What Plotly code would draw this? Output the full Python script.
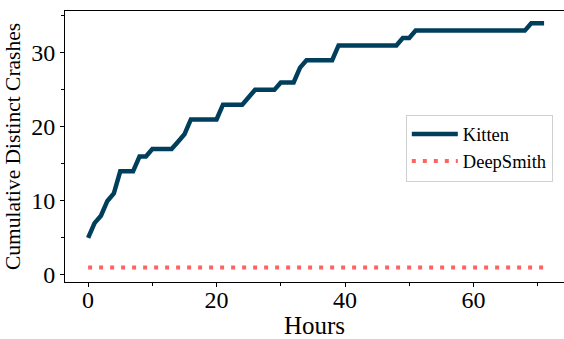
import plotly.graph_objects as go

hours = list(range(0, 72))
kitten = [5, 7, 8, 10, 11, 14, 14, 14, 16, 16,
          17, 17, 17, 17, 18, 19, 21, 21, 21, 21,
          21, 23, 23, 23, 23, 24, 25, 25, 25, 25,
          26, 26, 26, 28, 29, 29, 29, 29, 29, 31,
          31, 31, 31, 31, 31, 31, 31, 31, 31, 32,
          32, 33, 33, 33, 33, 33, 33, 33, 33, 33,
          33, 33, 33, 33, 33, 33, 33, 33, 33, 34,
          34, 34]
deepsmith = [1] * len(hours)

x_ticks = [0, 20, 40, 60]
y_ticks = [0, 10, 20, 30]

FONT = "Liberation Serif, Times New Roman, serif"

fig = go.Figure()
fig.add_trace(go.Scatter(x=hours, y=kitten, mode="lines", name="Kitten",
                         line=dict(color="#003f5c", width=4.5)))
fig.add_trace(go.Scatter(x=hours, y=deepsmith, mode="lines", name="DeepSmith",
                         line=dict(color="#ff6361", width=4, dash="4px,7px")))

fig.update_layout(
    width=564, height=339,
    margin=dict(l=65, r=0, t=11, b=57),
    paper_bgcolor="white", plot_bgcolor="white",
    font=dict(family=FONT, color="black"),
    legend=dict(x=0.683, y=0.618, xanchor="left", yanchor="top",
                bgcolor="white", bordercolor="#d0d0d0", borderwidth=1,
                itemwidth=46, tracegroupgap=0,
                font=dict(size=18.5, family=FONT)),
    xaxis=dict(range=[-3.6, 74.1], tickvals=x_ticks, ticks="outside", ticklen=4,
               tickwidth=1, tickcolor="black", automargin=False,
               ticklabelstandoff=-8,
               minor=dict(dtick=10, tick0=0, ticks="outside", ticklen=3, tickcolor="black"),
               showline=True, linecolor="black", linewidth=1, mirror=True,
               showgrid=False, zeroline=False,
               tickfont=dict(size=24, family=FONT),
               title=dict(text="Hours", font=dict(size=25, family=FONT), standoff=6)),
    yaxis=dict(range=[-0.95, 35.65], tickvals=y_ticks, ticks="outside", ticklen=4,
               tickwidth=1, tickcolor="black", automargin=False,
               minor=dict(dtick=5, tick0=0, ticks="outside", ticklen=3, tickcolor="black"),
               showline=True, linecolor="black", linewidth=1, mirror=False,
               showgrid=False, zeroline=False,
               tickfont=dict(size=24, family=FONT),
               title=dict(text="Cumulative Distinct Crashes", font=dict(size=21.5, family=FONT), standoff=4)),
)

fig.write_html("out.html", config={"displayModeBar": False},
               post_script="document.body.style.margin='0px';")
